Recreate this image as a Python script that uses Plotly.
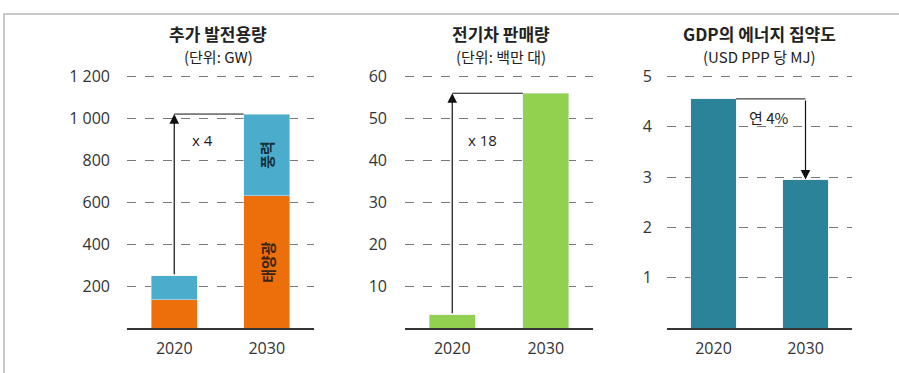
import plotly.graph_objects as go

W, H = 899, 373

# ---- data ----
years = ["2020", "2030"]
solar_gw = [135, 630]
wind_gw = [115, 390]
ev_sales = [3.2, 56]
energy_intensity = [4.55, 2.95]

cap_ticks = [200, 400, 600, 800, 1000, 1200]
cap_ticktext = ["200", "400", "600", "800", "1 000", "1 200"]
ev_ticks = [10, 20, 30, 40, 50, 60]
ei_ticks = [1, 2, 3, 4, 5]

titles = [("추가 발전용량", "(단위: GW)"),
          ("전기차 판매량", "(단위: 백만 대)"),
          ("GDP의 에너지 집약도", "(USD PPP 당 MJ)")]
ratio_labels = ["x 4", "x 18", "연 4%"]
seg_labels = ["태양광", "풍력"]

ORANGE = "#EC6F0B"
CYAN = "#4BADCB"
GREEN = "#92D050"
TEAL = "#2B8399"
FONT = "Noto Sans CJK KR"
NUMFONT = "Open Sans"
TXT = "#333333"

def px(x):
    return x / W

def py(y):
    return 1 - y / H

xpos = [0, 1]

fig = go.Figure()
fig.add_trace(go.Bar(x=xpos, y=solar_gw, marker_color=ORANGE, width=0.5,
                     xaxis="x", yaxis="y", showlegend=False))
fig.add_trace(go.Bar(x=xpos, y=wind_gw, marker_color=CYAN, width=0.5,
                     xaxis="x", yaxis="y", showlegend=False))
fig.add_trace(go.Bar(x=xpos, y=ev_sales, marker_color=GREEN, width=0.49,
                     xaxis="x2", yaxis="y2", showlegend=False))
fig.add_trace(go.Bar(x=xpos, y=energy_intensity, marker_color=TEAL, width=0.49,
                     xaxis="x3", yaxis="y3", showlegend=False))

ybottom, ytop = py(327), py(67)
panels = [
    (127, 314, [0, 1205], cap_ticks, cap_ticktext, 16, 92.5),
    (405, 593, [0, 60.3], ev_ticks, [str(t) for t in ev_ticks], 17, 93.5),
    (667, 852, [0, 5.02], ei_ticks, [str(t) for t in ei_ticks], 14, 92),
]
for i, (x0, x1, yr, tv, tt, standoff, per) in enumerate(panels):
    sfx = "" if i == 0 else str(i + 1)
    span = x1 - x0
    fig.layout["xaxis" + sfx] = dict(
        domain=[px(x0), px(x1)], anchor="y" + sfx,
        range=[0.5 - span / 2 / per, 0.5 + span / 2 / per],
        tickvals=xpos, ticktext=years, showgrid=False, zeroline=False,
        showline=True, linecolor="#333333", linewidth=1.5,
        ticks="", ticklabelstandoff=5,
        tickfont=dict(family=NUMFONT, size=16, color=TXT))
    fig.layout["yaxis" + sfx] = dict(
        domain=[ybottom, ytop], anchor="x" + sfx, range=yr,
        tickvals=tv, ticktext=tt, showgrid=True, gridcolor="#7a7a7a",
        griddash="dash", gridwidth=1, zeroline=False, showline=False,
        ticks="", ticklabelstandoff=standoff,
        tickfont=dict(family=NUMFONT, size=16, color=TXT))

annotations = []
centers = [218, 501, 759]
for (t, s), cx in zip(titles, centers):
    annotations.append(dict(text="<b>" + t + "</b>", x=px(cx), y=py(24), xref="paper",
                            yref="paper", showarrow=False, xanchor="center",
                            yanchor="middle", font=dict(family=FONT, size=17, color="#222222")))
    annotations.append(dict(text=s, x=px(cx), y=py(48), xref="paper", yref="paper",
                            showarrow=False, xanchor="center", yanchor="middle",
                            font=dict(family=FONT, size=15, color="#222222")))

shapes = []
ARROW = "#111111"
# panel 1 arrow: from top of 2020 stack to level of 2030 stack
tot = [s + w for s, w in zip(solar_gw, wind_gw)]
annotations.append(dict(x=xpos[0], y=tot[1], ax=xpos[0], ay=tot[0], xref="x", yref="y",
                        axref="x", ayref="y", showarrow=True, arrowhead=2, arrowsize=1.6,
                        arrowwidth=1.2, arrowcolor=ARROW, text=""))
shapes.append(dict(type="line", xref="x", yref="y", x0=xpos[0], x1=xpos[1] - 0.25,
                   y0=tot[1], y1=tot[1], line=dict(color=ARROW, width=1)))
annotations.append(dict(text=ratio_labels[0], x=0.3, y=895, xref="x", yref="y",
                        showarrow=False, font=dict(family=NUMFONT, size=15, color="#222222")))
# segment labels in 2030 stack
annotations.append(dict(text="<b>" + seg_labels[0] + "</b>", x=xpos[1], y=solar_gw[1] / 2,
                        xref="x", yref="y", showarrow=False, textangle=-90,
                        font=dict(family=FONT, size=15, color="#3a2414")))
annotations.append(dict(text="<b>" + seg_labels[1] + "</b>", x=xpos[1],
                        y=solar_gw[1] + wind_gw[1] / 2,
                        xref="x", yref="y", showarrow=False, textangle=-90,
                        font=dict(family=FONT, size=15, color="#16303c")))

# panel 2 arrow
annotations.append(dict(x=xpos[0], y=ev_sales[1], ax=xpos[0], ay=ev_sales[0], xref="x2",
                        yref="y2", axref="x2", ayref="y2", showarrow=True, arrowhead=2,
                        arrowsize=1.6, arrowwidth=1.2, arrowcolor=ARROW, text=""))
shapes.append(dict(type="line", xref="x2", yref="y2", x0=xpos[0], x1=xpos[1] - 0.245,
                   y0=ev_sales[1], y1=ev_sales[1], line=dict(color=ARROW, width=1)))
annotations.append(dict(text=ratio_labels[1], x=0.32, y=44.8, xref="x2", yref="y2",
                        showarrow=False, font=dict(family=NUMFONT, size=15, color="#222222")))

# panel 3 arrow: from 2020 bar top across, then down to 2030 top
shapes.append(dict(type="line", xref="x3", yref="y3", x0=xpos[0] + 0.245, x1=xpos[1],
                   y0=energy_intensity[0], y1=energy_intensity[0],
                   line=dict(color=ARROW, width=1)))
annotations.append(dict(x=xpos[1], y=energy_intensity[1], ax=xpos[1], ay=energy_intensity[0],
                        xref="x3", yref="y3", axref="x3", ayref="y3", showarrow=True,
                        arrowhead=2, arrowsize=1.6, arrowwidth=1.2, arrowcolor=ARROW, text=""))
annotations.append(dict(text=ratio_labels[2], x=0.6, y=4.18, xref="x3", yref="y3",
                        showarrow=False, font=dict(family=FONT, size=15, color="#222222")))

# outer frame
shapes.append(dict(type="rect", xref="paper", yref="paper", x0=px(4), x1=1.02,
                   y0=-0.02, y1=py(4), line=dict(color="#c8c8c8", width=2),
                   fillcolor="rgba(0,0,0,0)"))

fig.update_layout(width=W, height=H, margin=dict(l=0, r=0, t=0, b=0),
                  paper_bgcolor="white", plot_bgcolor="white", barmode="stack",
                  annotations=annotations, shapes=shapes,
                  font=dict(family=FONT))

fig.write_html("out.html")
